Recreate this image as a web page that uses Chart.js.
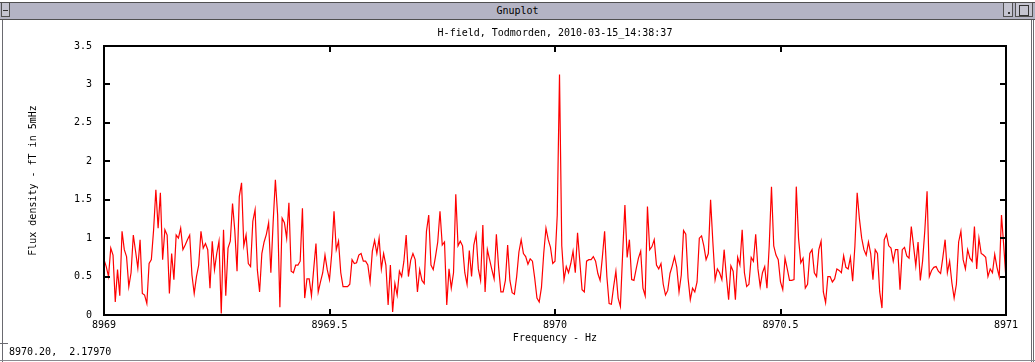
<!DOCTYPE html>
<html>
<head>
<meta charset="utf-8">
<title>Gnuplot</title>
<script src="https://cdn.jsdelivr.net/npm/chart.js@4.4.1/dist/chart.umd.min.js"></script>
<style>
  html, body { margin: 0; padding: 0; background: #fff; }
  body {
    width: 1035px; height: 362px; position: relative; overflow: hidden;
    font-family: 'DejaVu Sans Mono', monospace; font-size: 10px; color: #000;
  }
  #plot { position: absolute; left: 0; top: 0; }
  #titlebar {
    position: absolute; left: 0; top: 2px; width: 1035px; height: 16px;
    background: #b4b4c4; border-top: 1px solid #505050; border-bottom: 1px solid #505050;
    text-align: center; line-height: 16px;
  }
  .btn { position: absolute; top: 2px; height: 15px; border: 1px solid #505050; background: #c4c4d0; box-sizing: border-box; }
  #btn-menu { left: 1px; width: 9px; }
  #btn-menu::after { content: ''; position: absolute; left: 1px; top: 7px; width: 5px; height: 1px; background: #333; }
  #btn-min { left: 1003px; width: 10px; }
  #btn-min::after { content: ''; position: absolute; left: 4px; top: 9px; width: 2px; height: 2px; background: #333; }
  #btn-max { left: 1015px; width: 18px; }
  #btn-max::after { content: ''; position: absolute; left: 3px; top: 2px; width: 8px; height: 9px; border: 1px solid #333; }
  .edge { position: absolute; background: #6a6a70; width: 1px; }
  #edge-l { left: 2px; top: 20px; height: 342px; }
  #edge-r1 { left: 1031px; top: 20px; height: 342px; }
  #edge-r2 { left: 1033px; top: 20px; height: 342px; }
  #statusline { position: absolute; left: 0; top: 343px; width: 8px; height: 1px; background: #6a6a70; }
  #status { position: absolute; left: 9px; top: 346px; line-height: 12px; white-space: pre; }
  #bottomline { position: absolute; left: 0; top: 360px; width: 1035px; height: 1px; background: #8a8a90; }
</style>
</head>
<body>
<canvas id="plot" width="1035" height="362"></canvas>
<div id="titlebar">Gnuplot</div>
<div class="btn" id="btn-menu"></div>
<div class="btn" id="btn-min"></div>
<div class="btn" id="btn-max"></div>
<div class="edge" id="edge-l"></div>
<div class="edge" id="edge-r1"></div>
<div class="edge" id="edge-r2"></div>
<div id="statusline"></div>
<div id="status">8970.20,  2.17970</div>
<div id="bottomline"></div>
<script>
// Spectrum: one value per 5 mHz bin, from 8969 Hz to 8971 Hz
const freqStart = 8969;
const freqStep = 0.005;
const flux = [
  0.72, 0.63, 0.5, 0.87, 0.78, 0.17, 0.59, 0.25, 1.09, 0.85,
  0.76, 0.37, 0.55, 1.04, 0.83, 0.61, 0.98, 0.28, 0.26, 0.15,
  0.67, 0.72, 1.11, 1.63, 1.13, 1.59, 0.72, 1.11, 1.04, 0.28,
  0.8, 0.46, 1.04, 1.0, 1.13, 0.85, 0.91, 0.98, 1.04, 0.52,
  0.28, 0.5, 0.65, 1.09, 0.87, 0.93, 0.85, 0.35, 0.96, 0.59,
  0.8, 0.96, 0.02, 1.11, 0.25, 0.87, 0.96, 1.45, 1.1, 0.57,
  1.54, 1.72, 0.9, 1.04, 0.67, 0.63, 1.22, 1.37, 0.59, 0.3,
  0.8, 0.95, 1.05, 1.2, 0.55, 1.2, 1.76, 1.3, 0.1, 1.26,
  1.2, 1.0, 1.46, 0.57, 0.55, 0.65, 0.65, 0.7, 1.39, 0.22,
  0.47, 0.47, 0.25, 0.6, 0.93, 0.3, 0.43, 0.55, 0.78, 0.59,
  0.46, 0.8, 1.35, 0.85, 0.96, 0.55, 0.37, 0.37, 0.37, 0.4,
  0.72, 0.67, 0.68, 0.78, 0.8, 0.7, 0.7, 0.65, 0.43, 0.83,
  0.97, 0.8, 1.0, 0.6, 0.8, 0.65, 0.13, 0.65, 0.04, 0.41,
  0.26, 0.57, 0.5, 0.7, 1.04, 0.5, 0.71, 0.8, 0.72, 0.3,
  0.59, 0.45, 0.41, 1.09, 1.3, 0.65, 0.59, 0.76, 0.95, 1.35,
  0.91, 0.95, 0.13, 0.6, 0.35, 0.55, 1.57, 0.9, 0.96, 0.9,
  0.55, 0.4, 0.84, 0.5, 0.91, 1.05, 0.6, 0.45, 1.17, 0.3,
  0.85, 0.72, 0.59, 0.47, 1.05, 0.62, 0.3, 0.3, 0.45, 0.91,
  0.45, 0.29, 0.27, 0.5, 0.82, 0.98, 0.8, 0.76, 0.66, 0.73,
  0.7, 0.48, 0.22, 0.17, 0.36, 0.8, 1.13, 0.98, 0.88, 0.67,
  0.7, 1.3, 3.13, 0.9, 0.46, 0.63, 0.55, 0.67, 0.83, 0.55,
  1.07, 0.7, 0.33, 0.3, 0.7, 0.72, 0.72, 0.76, 0.7, 0.54,
  0.45, 0.75, 1.09, 0.5, 0.15, 0.14, 0.37, 0.57, 0.22, 0.11,
  0.8, 1.43, 0.75, 0.98, 0.46, 0.45, 0.6, 0.74, 0.83, 0.35,
  0.25, 1.41, 0.85, 0.89, 0.98, 0.65, 0.6, 0.67, 0.4, 0.26,
  0.32, 0.54, 0.64, 0.76, 0.62, 0.3, 0.52, 1.1, 1.05, 0.48,
  0.2, 0.35, 0.3, 0.43, 1.0, 1.03, 0.9, 0.72, 0.8, 1.5,
  0.95, 0.46, 0.6, 0.55, 0.46, 0.85, 0.5, 0.2, 0.64, 0.57,
  0.2, 0.75, 0.65, 1.11, 0.55, 0.37, 0.4, 0.75, 0.7, 1.05,
  0.6, 0.37, 0.55, 0.63, 0.35, 0.9, 1.67, 0.9, 0.78, 0.72,
  0.43, 0.33, 0.74, 0.6, 0.45, 0.45, 0.46, 1.67, 1.0, 0.68,
  0.74, 0.35, 0.4, 0.8, 0.85, 0.55, 0.5, 0.85, 0.96, 0.3,
  0.16, 0.5, 0.5, 0.43, 0.47, 0.6, 0.58, 0.55, 0.77, 0.62,
  0.6, 0.75, 0.44, 0.9, 1.59, 1.25, 1.0, 0.85, 0.78, 0.95,
  0.8, 0.46, 0.85, 0.8, 0.3, 0.09, 0.98, 1.05, 0.9, 0.87,
  0.7, 0.85, 0.85, 0.33, 0.85, 0.88, 0.77, 0.74, 1.15, 0.9,
  0.64, 0.95, 0.45, 0.7, 1.1, 1.61, 0.5, 0.58, 0.62, 0.63,
  0.57, 0.54, 0.75, 0.98, 0.55, 0.7, 0.42, 0.22, 0.4, 0.95,
  1.09, 0.72, 0.6, 0.85, 0.74, 0.7, 1.15, 0.6, 1.0, 0.8,
  0.78, 0.75, 0.5, 0.6, 0.55, 0.79, 0.62, 0.5, 1.3, 0.9,
  0.46
];

const xTickValues = [8969, 8969.5, 8970, 8970.5, 8971];
const xTickLabels = ['8969', '8969.5', '8970', '8970.5', '8971'];
const yTickValues = [0, 0.5, 1, 1.5, 2, 2.5, 3, 3.5];
const yTickLabels = ['0', '0.5', '1', '1.5', '2', '2.5', '3', '3.5'];

const chartTitle = 'H-field, Todmorden, 2010-03-15_14:38:37';
const xTitle = 'Frequency - Hz';
const yTitle = 'Flux density - fT in 5mHz';

const points = flux.map((v, i) => ({ x: freqStart + i * freqStep, y: v }));

const fontSpec = { family: "'DejaVu Sans Mono', monospace", size: 10, lineHeight: 1.2 };

// gnuplot style border with ticks pointing inwards, mirrored on all sides,
// plus the plot title centred over the plot area (as gnuplot does)
const gnuplotFrame = {
  id: 'gnuplotFrame',
  afterDatasetsDraw(chart) {
    const { ctx, chartArea: a, scales } = chart;
    const tickLen = 6;
    ctx.save();
    ctx.strokeStyle = '#000';
    ctx.lineWidth = 2;
    ctx.beginPath();
    xTickValues.forEach(v => {
      const px = Math.round(scales.x.getPixelForValue(v));
      ctx.moveTo(px, a.bottom); ctx.lineTo(px, a.bottom - tickLen);
      ctx.moveTo(px, a.top); ctx.lineTo(px, a.top + tickLen);
    });
    yTickValues.forEach(v => {
      const py = Math.round(scales.y.getPixelForValue(v));
      ctx.moveTo(a.left, py); ctx.lineTo(a.left + tickLen, py);
      ctx.moveTo(a.right, py); ctx.lineTo(a.right - tickLen, py);
    });
    ctx.stroke();
    ctx.strokeRect(a.left, a.top, a.right - a.left, a.bottom - a.top);

    ctx.fillStyle = '#000';
    ctx.font = `${fontSpec.size}px ${fontSpec.family}`;
    ctx.textAlign = 'center';
    ctx.textBaseline = 'middle';
    ctx.fillText(chartTitle, (a.left + a.right) / 2, a.top - 13);
    ctx.restore();
  }
};

Chart.defaults.font.family = fontSpec.family;
Chart.defaults.font.size = 10;
Chart.defaults.color = '#000';

new Chart(document.getElementById('plot'), {
  type: 'line',
  data: {
    datasets: [{
      data: points,
      borderColor: '#ff0000',
      borderWidth: 1.2,
      pointRadius: 0,
      tension: 0,
      fill: false
    }]
  },
  options: {
    responsive: false,
    animation: false,
    devicePixelRatio: 1,
    layout: { padding: { left: 0, right: 29, top: 46, bottom: 0 } },
    plugins: {
      legend: { display: false },
      tooltip: { enabled: false },
      title: { display: false }
    },
    scales: {
      x: {
        type: 'linear',
        min: 8969,
        max: 8971,
        grid: { display: false, drawTicks: false },
        border: { display: false },
        afterBuildTicks: scale => { scale.ticks = xTickValues.map(v => ({ value: v })); },
        afterFit: scale => { scale.height = 47; },
        ticks: {
          padding: 4,
          maxRotation: 0,
          autoSkip: false,
          font: fontSpec,
          callback: v => xTickLabels[xTickValues.indexOf(v)]
        },
        title: { display: true, text: xTitle, font: fontSpec, padding: { top: 0, bottom: 18 } }
      },
      y: {
        min: 0,
        max: 3.5,
        grid: { display: false, drawTicks: false },
        border: { display: false },
        afterBuildTicks: scale => { scale.ticks = yTickValues.map(v => ({ value: v })); },
        afterFit: scale => { scale.width = 104; },
        ticks: {
          padding: 12,
          autoSkip: false,
          font: fontSpec,
          callback: v => yTickLabels[yTickValues.indexOf(v)]
        },
        title: { display: true, text: yTitle, font: fontSpec, padding: { top: 27, bottom: 0 } }
      }
    }
  },
  plugins: [gnuplotFrame]
});
</script>
</body>
</html>
